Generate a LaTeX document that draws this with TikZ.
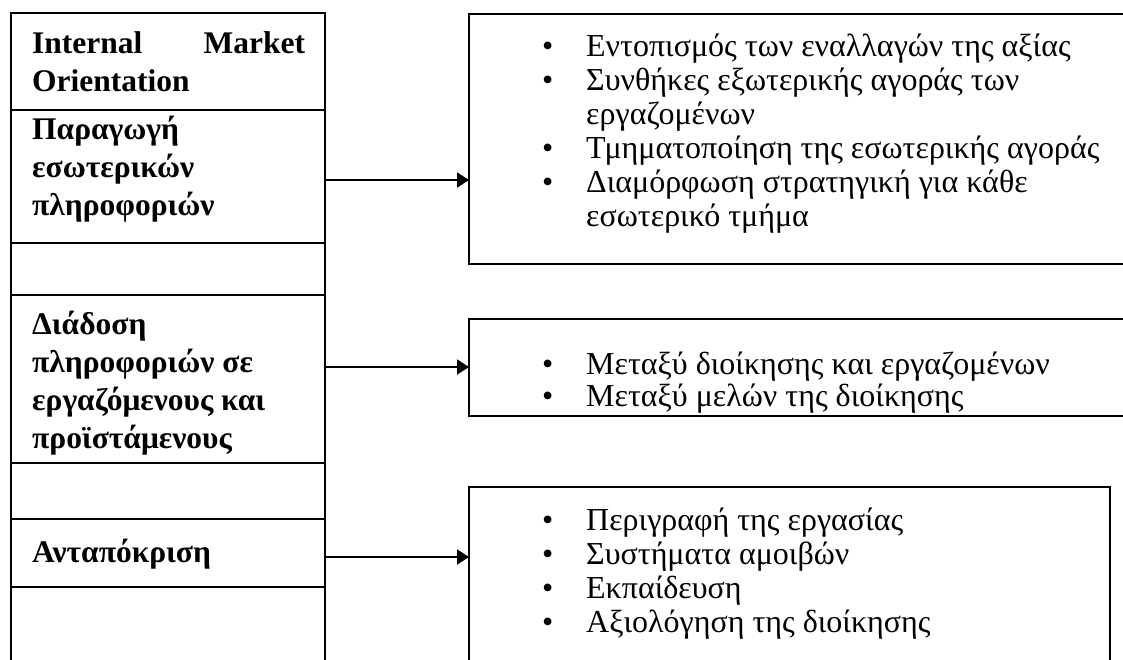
\documentclass[tikz,border=0pt]{standalone}
\usepackage{fontspec}
\setmainfont{Liberation Serif}
\usetikzlibrary{arrows.meta}
\newcommand\bul{\makebox[44pt][l]{\textbullet}}
\newcommand\bulskip{\hspace*{44pt}}
\begin{document}
\begin{tikzpicture}[x=1pt,y=-1pt,
  cell/.style={draw, line width=1.9pt, minimum width=314pt, anchor=north west, inner sep=0pt, outer sep=0pt},
  box/.style={draw, line width=1.9pt, anchor=north west, inner sep=0pt, outer sep=0pt},
  lefttext/.style={anchor=base west, inner sep=0pt, font=\bfseries\fontsize{31.5}{38}\selectfont},
  righttext/.style={anchor=base west, inner sep=0pt, font=\fontsize{32}{34}\selectfont},
  link/.style={line width=1.9pt, -{Triangle[length=12pt,width=15pt]}}]
\useasboundingbox (0,0) rectangle (1123,659);
\clip (0,0) rectangle (1123,659);
% left table
\node[cell, minimum height=97pt]  (c1) at (11,13) {};
\node[cell, minimum height=133pt] (c2) at (11,110) {};
\node[cell, minimum height=52pt]  (c3) at (11,243) {};
\node[cell, minimum height=168pt] (c4) at (11,295) {};
\node[cell, minimum height=56pt]  (c5) at (11,463) {};
\node[cell, minimum height=68pt]  (c6) at (11,519) {};
\node[cell, minimum height=90pt]  (c7) at (11,587) {};
% left texts
\node[lefttext] (t1) at (32,53) {\begin{tabular}[t]{@{}l@{}}\makebox[273pt][s]{Internal\hfill Market}\\ Orientation\end{tabular}};
\node[lefttext] (t2) at (32,139) {\begin{tabular}[t]{@{}l@{}}Παραγωγή\\ εσωτερικών\\ πληροφοριών\end{tabular}};
\node[lefttext] (t4) at (32,334) {\begin{tabular}[t]{@{}l@{}}Διάδοση\\ πληροφοριών σε\\ εργαζόμενους και\\ προϊστάμενους\end{tabular}};
\node[lefttext] (t6) at (32,562) {Ανταπόκριση};
% right boxes
\node[box, minimum width=700pt, minimum height=250pt] (b1) at (469,14) {};
\node[box, minimum width=700pt, minimum height=97pt]  (b2) at (469,319) {};
\node[box, minimum width=641pt, minimum height=200pt] (b3) at (469,487) {};
% right texts
\node[righttext] (r1) at (542,56) {\begin{tabular}[t]{@{}l@{}}\bul Εντοπισμός των εναλλαγών της αξίας\\ \bul Συνθήκες εξωτερικής αγοράς των\\ \bulskip εργαζομένων\\ \bul Τμηματοποίηση της εσωτερικής αγοράς\\ \bul Διαμόρφωση στρατηγική για κάθε\\ \bulskip εσωτερικό τμήμα\end{tabular}};
\node[righttext, font=\fontsize{32}{32}\selectfont] (r2) at (542,374) {\begin{tabular}[t]{@{}l@{}}\bul Μεταξύ διοίκησης και εργαζομένων\\ \bul Μεταξύ μελών της διοίκησης\end{tabular}};
\node[righttext] (r3) at (542,530) {\begin{tabular}[t]{@{}l@{}}\bul Περιγραφή της εργασίας\\ \bul Συστήματα αμοιβών\\ \bul Εκπαίδευση\\ \bul Αξιολόγηση της διοίκησης\end{tabular}};
% connectors
\coordinate (s1) at (c2.east |- 0,180);
\coordinate (s2) at (c4.east |- 0,367);
\coordinate (s3) at (c6.east |- 0,557);
\draw[link] (s1) -- (s1 -| b1.west);
\draw[link] (s2) -- (s2 -| b2.west);
\draw[link] (s3) -- (s3 -| b3.west);
\end{tikzpicture}
\end{document}
